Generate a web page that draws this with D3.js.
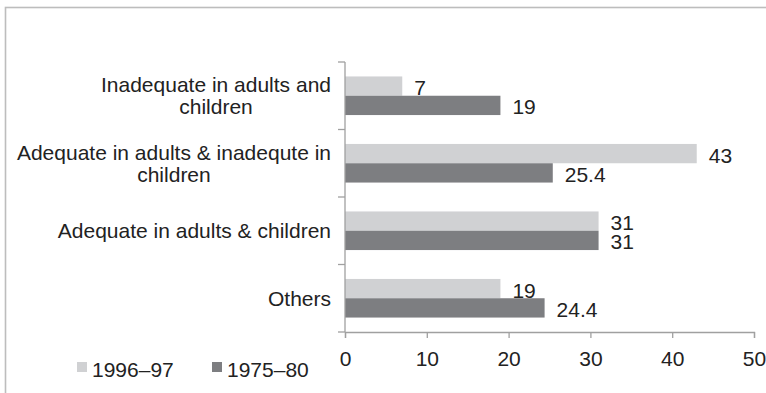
<!DOCTYPE html>
<html>
<head>
<meta charset="utf-8">
<script src="https://cdn.jsdelivr.net/npm/d3@7"></script>
<style>
  html, body { margin: 0; padding: 0; background: #fff; }
  svg { display: block; font-family: "Liberation Sans", Arial, sans-serif; }
</style>
</head>
<body>
<svg id="chart" width="766" height="393"></svg>
<script>
// Categories (top to bottom); each entry is a list of label lines
const categories = [
  ["Inadequate in adults and", "children"],
  ["Adequate in adults & inadequte in", "children"],
  ["Adequate in adults & children"],
  ["Others"]
];
const seriesNames = ["1996–97", "1975–80"];
const values1996 = [7, 43, 31, 19];
const values1975 = [19, 25.4, 31, 24.4];
const xTicks = [0, 10, 20, 30, 40, 50];

const colors = { "1996–97": "#d0d1d3", "1975–80": "#7d7e81" };
const textColor = "#222";
const fontSize = 21;

const svg = d3.select("#chart");

// outer frame
svg.append("rect")
  .attr("x", 5.5).attr("y", 7.5)
  .attr("width", 780).attr("height", 400)
  .attr("fill", "none")
  .attr("stroke", "#bdbdbd")
  .attr("stroke-width", 1.6);

const plot = { left: 345, right: 754, top: 62, bottom: 332 };

const x = d3.scaleLinear().domain([0, 50]).range([plot.left, plot.right]);
const y = d3.scaleBand().domain(d3.range(categories.length)).range([plot.top, plot.bottom]);
const barH = 19.3;
const y1 = d3.scaleBand().domain(seriesNames)
  .range([y.bandwidth() / 2 - barH, y.bandwidth() / 2 + barH]);

const rows = categories.map((c, i) => ({
  i, label: c,
  vals: [
    { s: seriesNames[0], v: values1996[i] },
    { s: seriesNames[1], v: values1975[i] }
  ]
}));

// bars
const g = svg.append("g");
const groups = g.selectAll("g.row").data(rows).join("g")
  .attr("class", "row")
  .attr("transform", d => `translate(0,${y(d.i)})`);

groups.selectAll("rect").data(d => d.vals).join("rect")
  .attr("x", x(0))
  .attr("y", d => y1(d.s))
  .attr("width", d => x(d.v) - x(0))
  .attr("height", y1.bandwidth())
  .attr("fill", d => colors[d.s]);

// value labels
groups.selectAll("text.val").data(d => d.vals).join("text")
  .attr("class", "val")
  .attr("x", d => x(d.v) + 12)
  .attr("y", d => y1(d.s) + y1.bandwidth() / 2 + 9)
  .attr("font-size", fontSize)
  .attr("fill", textColor)
  .text(d => d.v);

// x axis
const xAxis = d3.axisBottom(x).tickValues(xTicks).tickSize(6).tickPadding(13).tickFormat(d3.format("d"));
const gx = svg.append("g").attr("transform", `translate(0,${plot.bottom})`).call(xAxis);
gx.select(".domain").attr("stroke", "#a0a0a0").attr("stroke-width", 1.3);
gx.selectAll(".tick line").attr("stroke", "#a0a0a0").attr("stroke-width", 1.3);
gx.selectAll(".tick text").attr("font-size", fontSize).attr("fill", textColor)
  .attr("font-family", "Liberation Sans, Arial, sans-serif");

// y axis: tick marks at band boundaries
const yBounds = d3.range(categories.length + 1).map(k => plot.top + k * y.step());
const ay = svg.append("g");
ay.append("line")
  .attr("x1", plot.left).attr("x2", plot.left)
  .attr("y1", plot.top).attr("y2", plot.bottom)
  .attr("stroke", "#a0a0a0").attr("stroke-width", 1.3);
ay.selectAll("line.t").data(yBounds).join("line")
  .attr("class", "t")
  .attr("x1", plot.left - 7).attr("x2", plot.left)
  .attr("y1", d => d).attr("y2", d => d)
  .attr("stroke", "#a0a0a0").attr("stroke-width", 1.3);

// category labels: centred lines, right-aligned block
const labelRight = 331;
const lineGap = 22;
rows.forEach(r => {
  const cy = y(r.i) + y.bandwidth() / 2;
  const t = svg.append("text")
    .attr("font-size", fontSize)
    .attr("fill", textColor)
    .attr("text-anchor", "middle");
  const tmp = r.label.map(s => {
    const m = svg.append("text").attr("font-size", fontSize).text(s);
    const w = m.node().getComputedTextLength();
    m.remove();
    return w;
  });
  const maxW = d3.max(tmp);
  const cx = labelRight - maxW / 2;
  const n = r.label.length;
  const firstBase = cy + 7.5 - (n - 1) * lineGap / 2;
  r.label.forEach((s, k) => {
    t.append("tspan").attr("x", cx).attr("y", firstBase + k * lineGap).text(s);
  });
});

// legend
const legendPos = [{ x: 77 }, { x: 212 }];
const lg = svg.append("g");
seriesNames.forEach((s, k) => {
  lg.append("rect")
    .attr("x", legendPos[k].x).attr("y", 362)
    .attr("width", 10).attr("height", 10)
    .attr("fill", colors[s]);
  lg.append("text")
    .attr("x", legendPos[k].x + 15).attr("y", 377)
    .attr("font-size", fontSize)
    .attr("fill", textColor)
    .text(s);
});
</script>
</body>
</html>
